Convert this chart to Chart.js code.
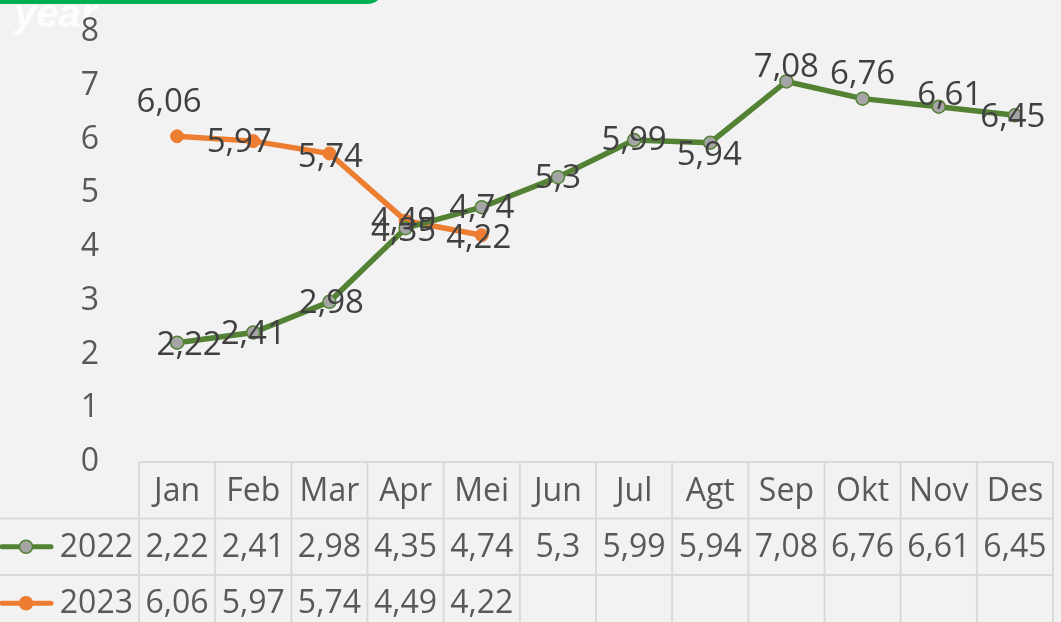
<!DOCTYPE html>
<html>
<head>
<meta charset="utf-8">
<script src="https://cdn.jsdelivr.net/npm/chart.js@4.4.0/dist/chart.umd.min.js"></script>
<style>
  html, body { margin: 0; padding: 0; background: #f2f2f2; overflow: hidden; }
  #wrap { position: relative; width: 1061px; height: 622px; }
  #banner {
    position: absolute; left: -20px; top: -30px; width: 405px; height: 34px;
    background: #00b050; border-bottom-right-radius: 18px;
  }
  #title {
    position: absolute; left: 14px; top: -9px; color: rgba(255,255,255,0.92);
    font: italic bold 40px "Liberation Sans", Arial, sans-serif; z-index: 0;
  }
  canvas { position: absolute; left: 0; top: 0; z-index: 1; }
  #banner { z-index: 2; }
</style>
</head>
<body>
<div id="wrap">
  <div id="title">year</div>
  <canvas id="chart" width="1061" height="622"></canvas>
  <div id="banner"></div>
</div>
<script>
// values
const months = ['Jan', 'Feb', 'Mar', 'Apr', 'Mei', 'Jun', 'Jul', 'Agt', 'Sep', 'Okt', 'Nov', 'Des'];
const seriesNames = ['2022', '2023'];
const values2022 = [2.22, 2.41, 2.98, 4.35, 4.74, 5.3, 5.99, 5.94, 7.08, 6.76, 6.61, 6.45];
const values2023 = [6.06, 5.97, 5.74, 4.49, 4.22, null, null, null, null, null, null, null];
const yTicks = [0, 1, 2, 3, 4, 5, 6, 7, 8];

// small label nudges (px) so labels sit roughly where they are in the original
const nudge2022 = [[12, 3], [0, 2], [2, 2], [-2, 3], [0, 1], [0, 1], [0, 1], [-1, 13], [0, -14], [0, -24], [11, -11], [-2, 2]];
const nudge2023 = [[-8, -34], [-14, 1], [1, 4], [-2, 1], [-3, 3]];

const FONT = '"Open Sans", "Noto Sans", sans-serif';
const GREEN = '#548235';
const ORANGE = '#ed7d31';
const GRID = '#d9d9d9';

function fmt(v) {
    return String(v).replace('.', ',');
}

// draws value labels on the points
const pointLabels = {
    id: 'pointLabels',
    afterDatasetsDraw(chart) {
        const ctx = chart.ctx;
        ctx.save();
        ctx.font = '33px ' + FONT;
        ctx.fillStyle = '#404040';
        ctx.textAlign = 'center';
        ctx.textBaseline = 'middle';
        const nudges = [nudge2022, nudge2023];
        chart.data.datasets.forEach((ds, i) => {
            const meta = chart.getDatasetMeta(i);
            meta.data.forEach((pt, j) => {
                const v = ds.data[j];
                if (v === null || v === undefined) return;
                const n = (nudges[i] && nudges[i][j]) || [0, 0];
                ctx.fillText(fmt(v), pt.x + n[0], pt.y + n[1]);
            });
        });
        ctx.restore();
    }
};

// data table under the plot
const dataTable = {
    id: 'dataTable',
    afterDraw(chart) {
        const ctx = chart.ctx;
        const xs = chart.scales.x;
        const area = chart.chartArea;
        const top = area.bottom;
        const rowH = 56.5;
        const step = xs.getPixelForValue(1) - xs.getPixelForValue(0);
        const left = xs.getPixelForValue(0) - step / 2;
        const right = left + step * months.length;
        ctx.save();
        ctx.strokeStyle = GRID;
        ctx.lineWidth = 2;
        ctx.beginPath();
        ctx.moveTo(left, top); ctx.lineTo(right, top);
        ctx.moveTo(0, top + rowH); ctx.lineTo(right, top + rowH);
        ctx.moveTo(0, top + rowH * 2); ctx.lineTo(right, top + rowH * 2);
        for (let i = 0; i <= months.length; i++) {
            const x = left + step * i;
            ctx.moveTo(x, top); ctx.lineTo(x, chart.height);
        }
        ctx.stroke();

        ctx.font = '32px ' + FONT;
        ctx.fillStyle = '#595959';
        ctx.textAlign = 'center';
        ctx.textBaseline = 'middle';
        months.forEach((m, i) => {
            ctx.fillText(m, xs.getPixelForValue(i), top + rowH / 2 + 2);
        });
        const rows = [values2022, values2023];
        rows.forEach((arr, r) => {
            const y = top + rowH * (r + 1) + rowH / 2 + 1;
            arr.forEach((v, i) => {
                if (v === null) return;
                ctx.fillText(fmt(v), xs.getPixelForValue(i), y);
            });
        });

        // legend keys
        const colors = [GREEN, ORANGE];
        const fills = ['#a5a5a5', ORANGE];
        seriesNames.forEach((name, r) => {
            const y = top + rowH * (r + 1) + rowH / 2;
            ctx.strokeStyle = colors[r];
            ctx.lineWidth = 5;
            ctx.lineCap = 'round';
            ctx.beginPath();
            ctx.moveTo(2, y); ctx.lineTo(51, y);
            ctx.stroke();
            ctx.beginPath();
            ctx.arc(26, y, 6.5, 0, Math.PI * 2);
            ctx.fillStyle = fills[r];
            ctx.fill();
            ctx.lineWidth = 1.5;
            ctx.stroke();
            ctx.fillStyle = '#595959';
            ctx.textAlign = 'right';
            ctx.fillText(name, left - 6, y + 1);
        });
        ctx.restore();
    }
};

new Chart(document.getElementById('chart'), {
    type: 'line',
    data: {
        labels: months,
        datasets: [{
            label: seriesNames[0],
            data: values2022,
            borderColor: GREEN,
            borderWidth: 5.5,
            pointRadius: 6.5,
            pointBackgroundColor: '#a5a5a5',
            pointBorderColor: GREEN,
            pointBorderWidth: 1.5,
            tension: 0
        }, {
            label: seriesNames[1],
            data: values2023,
            borderColor: ORANGE,
            borderWidth: 5.5,
            pointRadius: 6.5,
            pointBackgroundColor: ORANGE,
            pointBorderColor: ORANGE,
            pointBorderWidth: 1,
            spanGaps: false,
            tension: 0
        }]
    },
    options: {
        responsive: false,
        animation: false,
        layout: { padding: { top: 32, bottom: 152, right: 0, left: 0 } },
        plugins: {
            legend: { display: false },
            tooltip: { enabled: false }
        },
        scales: {
            x: {
                type: 'category',
                offset: true,
                grid: { display: false },
                border: { display: false },
                ticks: { display: false }
            },
            y: {
                min: 0,
                max: 8,
                afterBuildTicks: axis => { axis.ticks = yTicks.map(v => ({ value: v })); },
                afterFit: axis => {
                    axis.width = 139;
                    axis.paddingTop = 0;
                    axis.paddingBottom = 0;
                },
                grid: { display: false },
                border: { display: false },
                ticks: {
                    color: '#595959',
                    font: { family: FONT, size: 32 },
                    padding: 32,
                    callback: v => fmt(v)
                }
            }
        }
    },
    plugins: [pointLabels, dataTable]
});
</script>
</body>
</html>
